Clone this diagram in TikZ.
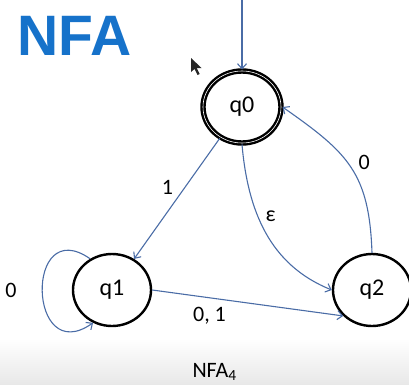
\documentclass[tikz,border=0pt]{standalone}
\usepackage{fontspec}
\setmainfont{Carlito}
\newfontfamily\titlefont{Liberation Sans}
\usetikzlibrary{arrows.meta,automata,shapes.geometric}

\definecolor{edgeblue}{RGB}{74,108,166}
\definecolor{titleblue}{RGB}{22,114,202}

\begin{document}
\begin{tikzpicture}[x=1pt,y=1pt,->,>={Straight Barb[length=5pt,width=9pt]},auto,
                    font=\fontsize{22}{22}\selectfont,
                    every state/.style={ellipse,draw=black,line width=2.4pt,
                      minimum width=78pt,minimum height=72pt,inner sep=0pt,
                      font=\fontsize{24}{24}\selectfont},
                    every accepting state/.style={line width=1.6pt,
                      double distance=4pt,minimum width=70pt,minimum height=64pt,
                      outer sep=3.8pt},
                    every edge/.style={draw=edgeblue,line width=1.1pt}]
  \useasboundingbox (0,0) rectangle (409,384);
  %\tikzstyle{every state}=[fill=none,draw=none,text=white]

  % grey strip at the bottom
  \shade[top color=white,bottom color=black!9] (0,0) rectangle (409,46);

  \node[anchor=base west,inner sep=0pt,text=titleblue,
        font=\fontsize{57}{57}\titlefont\bfseries] (title) at (17,329) {NFA};

  % pointer
  \fill[black!85] (191,326) -- ++(0,-14) -- ++(3.5,3) -- ++(3,-6) -- ++(2.2,1)
                  -- ++(-3,6) -- ++(4.8,0) -- cycle;

  \node[state,accepting] (q0) at (242,277) {q0};
  \node[state]           (q1) at (112,94)  {q1};
  \node[state]           (q2) at (372,94)  {q2};

  \coordinate (start) at (242,386);
  \draw[edgeblue,line width=1.1pt] (start) -- (q0);

  \path (q0)      edge [swap]                          node {1}              (q1)
        (q0.south) edge [out=-85,in=158]               node [pos=0.45] {ε} (q2.west)
        (q2.north) edge [out=92,in=-35,looseness=1.2]  node [swap,pos=0.45] {0} (q0.east)
        (q1.125)  edge [out=145,in=215,looseness=3.2]  node [left=22pt] {0}  (q1.240)
        (q1.east) edge                                 node [below=6pt,pos=0.3] {0, 1} (q2.222);

  \node[anchor=base west] (caption) at (189,7) {NFA\textsubscript{4}};
\end{tikzpicture}
\end{document}
